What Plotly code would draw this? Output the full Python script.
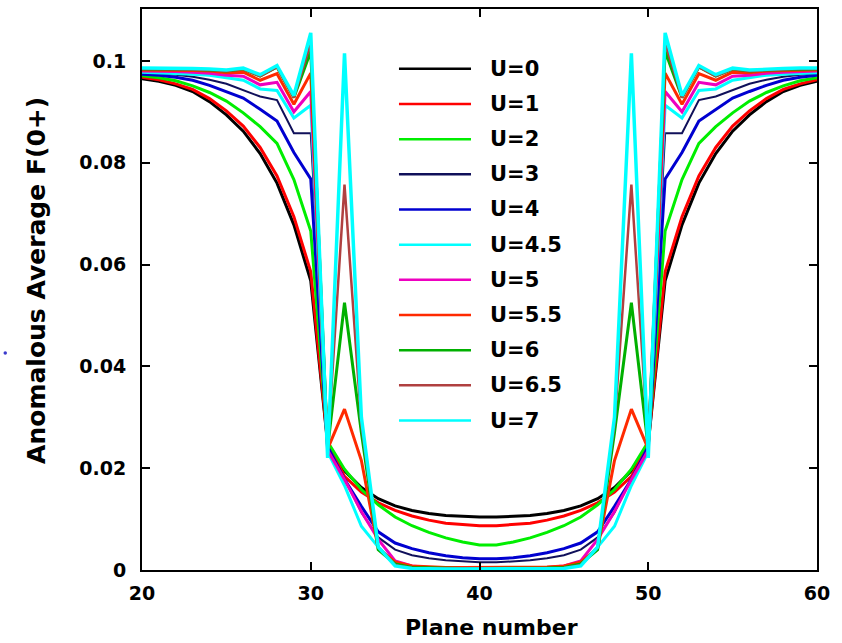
import plotly.graph_objects as go

planes = list(range(20, 61))

labels = ["U=0", "U=1", "U=2", "U=3", "U=4", "U=4.5", "U=5", "U=5.5", "U=6", "U=6.5", "U=7"]
colors = ["#000000", "#ff0000", "#00ee00", "#10105a", "#0000d0", "#00ffff",
          "#ee00c0", "#ff2a00", "#00b000", "#b04040", "#00ffff"]
widths = [3, 3, 3, 2, 3, 3, 3, 3, 3, 2.5, 3.5]

u0 = [0.0965, 0.0960, 0.0952, 0.0940, 0.0920, 0.0894, 0.0862, 0.0818, 0.0760, 0.0678, 0.0568,
      0.0248, 0.0195, 0.0162, 0.0140, 0.0126, 0.0117, 0.0111, 0.0107, 0.0105, 0.0104,
      0.0104, 0.0105, 0.0107, 0.0111, 0.0117, 0.0126, 0.0140, 0.0162, 0.0195, 0.0248,
      0.0568, 0.0678, 0.0760, 0.0818, 0.0862, 0.0894, 0.0920, 0.0940, 0.0952, 0.0960]
u1 = [0.0968, 0.0963, 0.0955, 0.0944, 0.0926, 0.0902, 0.0872, 0.0830, 0.0774, 0.0694, 0.0586,
      0.0250, 0.0184, 0.0153, 0.0132, 0.0117, 0.0106, 0.0098, 0.0092, 0.0089, 0.0087,
      0.0087, 0.0089, 0.0092, 0.0098, 0.0106, 0.0117, 0.0132, 0.0153, 0.0184, 0.0250,
      0.0586, 0.0694, 0.0774, 0.0830, 0.0872, 0.0902, 0.0926, 0.0944, 0.0955, 0.0963]
u2 = [0.0971, 0.0967, 0.0961, 0.0951, 0.0938, 0.0921, 0.0898, 0.0871, 0.0838, 0.0767, 0.0666,
      0.0252, 0.0198, 0.0158, 0.0128, 0.0104, 0.0087, 0.0074, 0.0063, 0.0055, 0.0049,
      0.0049, 0.0055, 0.0063, 0.0074, 0.0087, 0.0104, 0.0128, 0.0158, 0.0198, 0.0252,
      0.0666, 0.0767, 0.0838, 0.0871, 0.0898, 0.0921, 0.0938, 0.0951, 0.0961, 0.0967]
u3 = [0.0976, 0.0975, 0.0973, 0.0969, 0.0963, 0.0955, 0.0943, 0.0930, 0.0923, 0.0858, 0.0858,
      0.0240, 0.0180, 0.0113, 0.0064, 0.0040, 0.0029, 0.0023, 0.0019, 0.0017, 0.0015,
      0.0015, 0.0017, 0.0019, 0.0023, 0.0029, 0.0040, 0.0064, 0.0113, 0.0180, 0.0240,
      0.0858, 0.0858, 0.0923, 0.0930, 0.0943, 0.0955, 0.0963, 0.0969, 0.0973, 0.0975]
u4 = [0.0974, 0.0972, 0.0968, 0.0962, 0.0952, 0.0940, 0.0927, 0.0905, 0.0882, 0.0820, 0.0768,
      0.0242, 0.0178, 0.0125, 0.0075, 0.0053, 0.0042, 0.0034, 0.0028, 0.0024, 0.0022,
      0.0022, 0.0024, 0.0028, 0.0034, 0.0042, 0.0053, 0.0075, 0.0125, 0.0178, 0.0242,
      0.0768, 0.0820, 0.0882, 0.0905, 0.0927, 0.0940, 0.0952, 0.0962, 0.0968, 0.0972]
u45 = [0.0978, 0.0977, 0.0976, 0.0974, 0.0972, 0.0967, 0.0962, 0.0945, 0.0942, 0.0888, 0.0913,
       0.0232, 0.0166, 0.0086, 0.0045, 0.0012, 0.0005, 0.0003, 0.0002, 0.0002, 0.0002,
       0.0002, 0.0002, 0.0002, 0.0003, 0.0005, 0.0012, 0.0045, 0.0086, 0.0166, 0.0232,
       0.0913, 0.0888, 0.0942, 0.0945, 0.0962, 0.0967, 0.0972, 0.0974, 0.0976, 0.0977]
u5 = [0.0980, 0.0980, 0.0979, 0.0978, 0.0976, 0.0972, 0.0970, 0.0953, 0.0958, 0.0900, 0.0940,
      0.0235, 0.0178, 0.0115, 0.0060, 0.0018, 0.0008, 0.0005, 0.0004, 0.0003, 0.0003,
      0.0003, 0.0003, 0.0004, 0.0005, 0.0008, 0.0018, 0.0060, 0.0115, 0.0178, 0.0235,
      0.0940, 0.0900, 0.0958, 0.0953, 0.0970, 0.0972, 0.0976, 0.0978, 0.0979, 0.0980]
u55 = [0.0982, 0.0982, 0.0982, 0.0981, 0.0980, 0.0977, 0.0978, 0.0962, 0.0975, 0.0915, 0.0976,
       0.0238, 0.0316, 0.0215, 0.0042, 0.0016, 0.0008, 0.0006, 0.0005, 0.0005, 0.0005,
       0.0005, 0.0005, 0.0005, 0.0006, 0.0008, 0.0016, 0.0042, 0.0215, 0.0316, 0.0238,
       0.0976, 0.0915, 0.0975, 0.0962, 0.0978, 0.0977, 0.0980, 0.0981, 0.0982, 0.0982]
u6 = [0.0984, 0.0984, 0.0984, 0.0983, 0.0982, 0.0980, 0.0984, 0.0970, 0.0988, 0.0928, 0.1019,
      0.0240, 0.0525, 0.0270, 0.0040, 0.0012, 0.0005, 0.0004, 0.0003, 0.0003, 0.0003,
      0.0003, 0.0003, 0.0003, 0.0004, 0.0005, 0.0012, 0.0040, 0.0270, 0.0525, 0.0240,
      0.1019, 0.0928, 0.0988, 0.0970, 0.0984, 0.0980, 0.0982, 0.0983, 0.0984, 0.0984]
u65 = [0.0984, 0.0984, 0.0984, 0.0983, 0.0982, 0.0980, 0.0984, 0.0970, 0.0988, 0.0928, 0.1035,
       0.0242, 0.0757, 0.0285, 0.0045, 0.0010, 0.0004, 0.0003, 0.0003, 0.0003, 0.0003,
       0.0003, 0.0003, 0.0003, 0.0003, 0.0004, 0.0010, 0.0045, 0.0285, 0.0757, 0.0242,
       0.1035, 0.0928, 0.0988, 0.0970, 0.0984, 0.0980, 0.0982, 0.0983, 0.0984, 0.0984]
u7 = [0.0986, 0.0986, 0.0986, 0.0985, 0.0984, 0.0982, 0.0986, 0.0973, 0.0991, 0.0932, 0.1055,
      0.0220, 0.1015, 0.0300, 0.0045, 0.0008, 0.0003, 0.0002, 0.0002, 0.0002, 0.0002,
      0.0002, 0.0002, 0.0002, 0.0002, 0.0003, 0.0008, 0.0045, 0.0300, 0.1015, 0.0220,
      0.1055, 0.0932, 0.0991, 0.0973, 0.0986, 0.0982, 0.0984, 0.0985, 0.0986, 0.0986]

series = [u0, u1, u2, u3, u4, u45, u5, u55, u6, u65, u7]

x_ticks = [20, 30, 40, 50, 60]
y_ticks = [0, 0.02, 0.04, 0.06, 0.08, 0.1]
y_tick_text = ["0", "0.02", "0.04", "0.06", "0.08", "0.1"]

FONT = "DejaVu Sans"

fig = go.Figure()
for lab, col, w, ys in zip(labels, colors, widths, series):
    fig.add_trace(go.Scatter(x=planes, y=ys, mode="lines", name=lab,
                             line=dict(color=col, width=w), showlegend=False))

# custom legend (long sample lines like the original)
leg_x0, leg_x1, leg_tx = 0.3807, 0.4874, 0.5126
row0_px, row_step = 67.0, 35.3
for i, (lab, col, w) in enumerate(zip(labels, colors, widths)):
    py = row0_px + i * row_step
    yp = (570 - py) / 563
    fig.add_shape(type="line", xref="paper", yref="paper", x0=leg_x0, x1=leg_x1,
                  y0=yp, y1=yp, line=dict(color=col, width=2.5))
    fig.add_annotation(xref="paper", yref="paper", x=leg_tx, y=yp, text=lab,
                       showarrow=False, xanchor="left", yanchor="middle",
                       font=dict(family=FONT, size=21, color="black", weight="bold"))

fig.add_annotation(xref="paper", yref="paper", x=-0.1556, y=0.517,
                   text="Anomalous Average F(0+)", textangle=-90, showarrow=False,
                   xanchor="center", yanchor="middle",
                   font=dict(family=FONT, size=25, color="black", weight="bold"))
fig.add_annotation(xref="paper", yref="paper", x=0.5185, y=-0.103,
                   text="Plane number", showarrow=False,
                   xanchor="center", yanchor="middle",
                   font=dict(family=FONT, size=22, color="black", weight="bold"))
# small stray blue dot left of the axis title (as in the original)
fig.add_shape(type="circle", xref="paper", yref="paper",
              x0=(3.5 - 142) / 675, x1=(7 - 142) / 675,
              y0=(570 - 354) / 563, y1=(570 - 350.5) / 563,
              fillcolor="#3a3acc", line=dict(width=0))

axis_common = dict(showline=True, linecolor="black", linewidth=2, mirror="ticks",
                   ticks="inside", ticklen=8, tickwidth=1.5, tickcolor="black",
                   showgrid=False, zeroline=False,
                   tickfont=dict(family=FONT, size=19, color="black", weight="bold"))

fig.update_xaxes(range=[20, 60], tickvals=x_ticks, ticklabelstandoff=5, **axis_common)
fig.update_yaxes(range=[0, 0.1102], tickvals=y_ticks, ticktext=y_tick_text,
                 ticklabelstandoff=10, **axis_common)

fig.update_layout(width=842, height=643, margin=dict(l=142, r=25, t=7, b=73),
                  paper_bgcolor="white", plot_bgcolor="white")

fig.write_html("out.html")
